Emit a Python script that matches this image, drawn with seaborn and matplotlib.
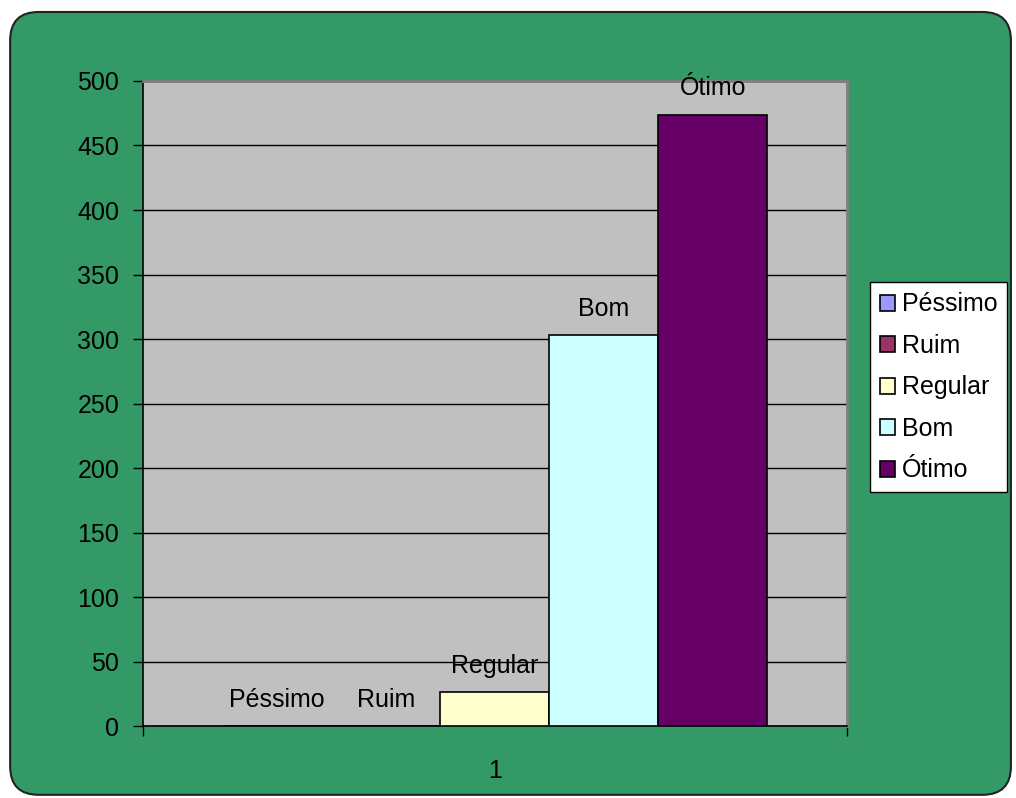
import matplotlib
matplotlib.use("Agg")
import matplotlib.pyplot as plt
import seaborn as sns
import pandas as pd
from matplotlib.patches import FancyBboxPatch

categories = ["Péssimo", "Ruim", "Regular", "Bom", "Ótimo"]
values = [0, 0, 26, 303, 474]
group = ["1"] * 5
colors = ["#9999FF", "#993366", "#FFFFCC", "#CCFFFF", "#660066"]
yticks = [0, 50, 100, 150, 200, 250, 300, 350, 400, 450, 500]

sns.set_theme(style="white")
plt.rcParams["font.family"] = ["Liberation Sans", "DejaVu Sans"]
plt.rcParams["text.color"] = "black"
plt.rcParams["xtick.color"] = "black"
plt.rcParams["ytick.color"] = "black"
plt.rcParams["xtick.labelcolor"] = "black"
plt.rcParams["ytick.labelcolor"] = "black"

FS = 18

fig = plt.figure(figsize=(10.16, 7.98), dpi=100)
fig.patch.set_facecolor("white")
bg = FancyBboxPatch((0.010, 0.004), 0.985, 0.981,
                    boxstyle="round,pad=0,rounding_size=0.028",
                    transform=fig.transFigure, facecolor="#339966",
                    edgecolor="#222222", linewidth=1.5, zorder=-10,
                    mutation_aspect=1016/798)
fig.patches.append(bg)

ax = fig.add_axes([0.1407, 0.0902, 0.693, 0.8083])
ax.set_zorder(1)
ax.set_facecolor("#C0C0C0")

df = pd.DataFrame({"grp": group, "cat": categories, "val": values})
sns.barplot(data=df, x="grp", y="val", hue="cat", hue_order=categories,
            palette=colors, width=0.774, edgecolor="black", linewidth=1.2,
            saturation=1, ax=ax, legend=True, zorder=3)

ax.set_xlim(-0.5, 0.5)
ax.set_ylim(0, 500)
ax.set_yticks(yticks)
ax.yaxis.grid(True, color="black", linewidth=1)
ax.set_axisbelow(True)
ax.set_xlabel("")
ax.set_ylabel("")
ax.tick_params(axis="y", direction="out", length=7.5, width=1, color="black",
               labelsize=FS, pad=9.5, left=True)
ax.tick_params(axis="x", which="major", length=0, labelsize=FS, pad=24)
ax.set_xticks([-0.5, 0.5], minor=True)
ax.tick_params(axis="x", which="minor", direction="out", length=7.5, width=1,
               color="black", bottom=True)
for s in ["left", "bottom"]:
    ax.spines[s].set_color("black")
    ax.spines[s].set_linewidth(1.2)
for s in ["top", "right"]:
    ax.spines[s].set_color("#808080")
    ax.spines[s].set_linewidth(2)

# labels above bars
for bar, lab in zip(ax.patches, categories):
    x = bar.get_x() + bar.get_width() / 2
    h = bar.get_height()
    ax.annotate(lab, (x, h), xytext=(0, 19), textcoords="offset points",
                ha="center", va="center", fontsize=FS, color="black",
                annotation_clip=False, zorder=5)

leg = ax.legend(loc="center left", bbox_to_anchor=(1.033, 0.525), frameon=True,
                fontsize=FS, handlelength=0.6, handleheight=0.6,
                handletextpad=0.25, labelspacing=0.7, borderpad=0.4,
                fancybox=False, edgecolor="black", facecolor="white",
                borderaxespad=0)
leg.get_frame().set_linewidth(1)
leg.get_frame().set_alpha(1)

fig.savefig("out.png", dpi=100, facecolor=fig.get_facecolor())
